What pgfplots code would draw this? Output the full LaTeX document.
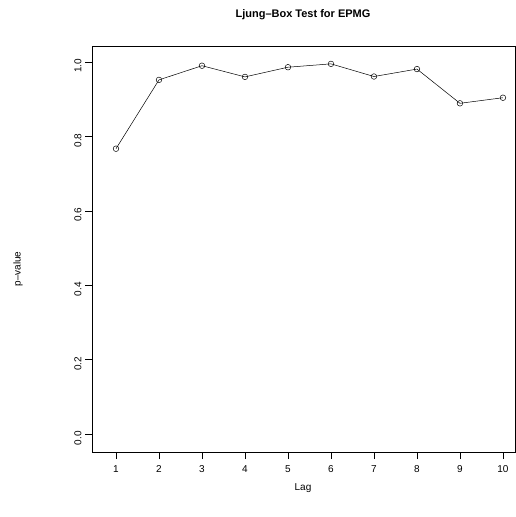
\documentclass[border=0pt]{standalone}
\usepackage{pgfplots}
\pgfplotsset{compat=1.18}
\usepackage{fontspec}
\setmainfont{Liberation Sans}
\begin{document}
\begin{tikzpicture}[x=1pt,y=1pt]
\useasboundingbox (0,0) rectangle (516,517);
\begin{axis}[
  at={(92pt,65pt)}, anchor=south west, scale only axis,
  width=423pt, height=406pt,
  xmin=0.442, xmax=10.28, ymin=-0.048, ymax=1.043,
  xtick={1,...,10}, ytick={0,0.2,0.4,0.6,0.8,1.0},
  yticklabels={0.0,0.2,0.4,0.6,0.8,1.0},
  tick align=outside, major tick length=7pt,
  tick style={black, line width=0.5pt},
  xtick pos=bottom, ytick pos=left,
  axis line style={line width=0.5pt},
  /pgf/number format/assume math mode=true,
  tick label style={font=\fontsize{10}{12}\selectfont},
  xticklabel style={yshift=-3pt},
  yticklabel style={rotate=90, anchor=south, xshift=-4pt, yshift=0pt},
  every axis y label/.style={at={(ticklabel* cs:0.5)}},
]
\addplot[black, line width=0.5pt, mark=o, mark size=2.8pt, mark options={line width=0.5pt}] coordinates {
(1,0.767) (2,0.952) (3,0.990) (4,0.960) (5,0.986) (6,0.995) (7,0.961) (8,0.981) (9,0.889) (10,0.904)};
\end{axis}
\node[font=\bfseries\fontsize{11}{13}\selectfont] at (303,502) {Ljung\textendash Box Test for EPMG};
\node[font=\fontsize{10}{12}\selectfont] at (303,29) {Lag};
\node[font=\fontsize{10}{12}\selectfont, rotate=90] at (18,248) {p\textendash value};
\end{tikzpicture}
\end{document}
